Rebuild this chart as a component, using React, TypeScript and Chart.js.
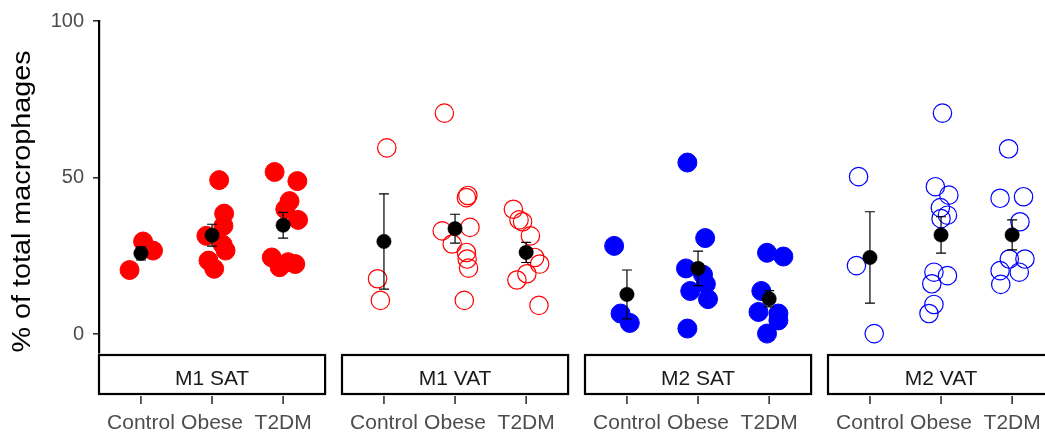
import React, { useEffect, useRef } from 'react';
import { Chart, registerables } from 'chart.js';

Chart.register(...registerables);

// ---------------- data ----------------
const PANELS = ['M1 SAT', 'M1 VAT', 'M2 SAT', 'M2 VAT'];
const GROUPS = ['Control', 'Obese', 'T2DM'];
const Y_TICKS = [0, 50, 100];
const Y_TITLE = '% of total macrophages';

const M1_SAT_VALUES = [
  [29.6, 26.7, 20.5],
  [49.2, 38.5, 34.6, 31.4, 28.6, 26.7, 23.5, 20.9],
  [51.8, 48.9, 42.5, 39.9, 36.5, 24.5, 23.0, 22.4, 21.4],
];
const M1_SAT_JITTER = [
  [0.03, 0.17, -0.16],
  [0.10, 0.17, 0.16, -0.08, 0.15, 0.19, -0.05, 0.03],
  [-0.12, 0.20, 0.09, 0.03, 0.21, -0.16, 0.07, 0.17, -0.05],
];
const M1_SAT_MEANS = [25.8, 31.6, 34.8];
const M1_SAT_ERR = [2.1, 3.5, 4.1];

const M1_VAT_VALUES = [
  [59.5, 17.7, 10.8],
  [70.6, 44.3, 43.6, 34.1, 33.0, 28.8, 26.1, 24.0, 21.1, 10.8],
  [39.9, 36.5, 35.9, 31.4, 24.5, 22.4, 19.3, 17.3, 9.2],
];
const M1_VAT_JITTER = [
  [0.04, -0.09, -0.05],
  [-0.15, 0.18, 0.16, 0.21, -0.18, -0.04, 0.16, 0.17, 0.19, 0.13],
  [-0.18, -0.10, -0.05, 0.06, 0.12, 0.19, 0.01, -0.13, 0.18],
];
const M1_VAT_MEANS = [29.6, 33.7, 26.1];
const M1_VAT_ERR = [15.2, 4.6, 3.2];

const M2_SAT_VALUES = [
  [28.2, 6.6, 3.6],
  [54.8, 30.7, 21.0, 19.0, 16.0, 13.8, 11.2, 1.8],
  [26.0, 24.8, 13.8, 7.1, 6.6, 4.4, 0.2],
];
const M2_SAT_JITTER = [
  [-0.18, -0.09, 0.04],
  [-0.15, 0.10, -0.17, 0.07, 0.11, -0.11, 0.14, -0.15],
  [-0.03, 0.20, -0.11, -0.15, 0.13, 0.13, -0.03],
];
const M2_SAT_MEANS = [12.7, 21.0, 11.3];
const M2_SAT_ERR = [7.8, 5.5, 2.6];

const M2_VAT_VALUES = [
  [50.3, 21.9, 0.2],
  [70.6, 47.1, 44.4, 40.4, 38.0, 36.9, 19.8, 18.7, 16.1, 9.5, 6.6],
  [59.2, 43.9, 43.4, 35.9, 24.0, 24.0, 20.3, 19.8, 15.9],
];
const M2_VAT_JITTER = [
  [-0.16, -0.19, 0.06],
  [0.02, -0.08, 0.11, -0.01, 0.09, 0.0, -0.10, 0.09, -0.13, -0.10, -0.17],
  [-0.05, 0.16, -0.17, 0.11, -0.04, 0.18, -0.17, 0.10, -0.16],
];
const M2_VAT_MEANS = [24.5, 31.7, 31.7];
const M2_VAT_ERR = [14.6, 5.8, 4.8];

// ---------------- layout / style ----------------
const FONT = "'Liberation Sans', Arial, Helvetica, sans-serif";
const W = 1045;
const H = 432;
const UNIT_PX = 71.1;
const PANEL_STRIDE = 243 / UNIT_PX; // distance between panels in category units
const EXPAND = 0.59;
const X_MIN = -EXPAND;
const X_MAX = X_MIN + (W - 99) / UNIT_PX;

const PANEL_DATA = [
  { values: M1_SAT_VALUES, jitter: M1_SAT_JITTER, means: M1_SAT_MEANS, err: M1_SAT_ERR, color: '#FF0000', filled: true },
  { values: M1_VAT_VALUES, jitter: M1_VAT_JITTER, means: M1_VAT_MEANS, err: M1_VAT_ERR, color: '#FF0000', filled: false },
  { values: M2_SAT_VALUES, jitter: M2_SAT_JITTER, means: M2_SAT_MEANS, err: M2_SAT_ERR, color: '#0000FF', filled: true },
  { values: M2_VAT_VALUES, jitter: M2_VAT_JITTER, means: M2_VAT_MEANS, err: M2_VAT_ERR, color: '#0000FF', filled: false },
];

const facetPlugin = {
  id: 'facetDecor',
  afterDatasetsDraw(chart: any) {
    const { ctx, scales } = chart;
    const xs = scales.x;
    const ys = scales.y;
    ctx.save();
    ctx.strokeStyle = '#000';
    ctx.lineWidth = 1.2;
    PANEL_DATA.forEach((pd, p) => {
      pd.means.forEach((m, g) => {
        const x = xs.getPixelForValue(p * PANEL_STRIDE + g);
        const yt = ys.getPixelForValue(m + pd.err[g]);
        const yb = ys.getPixelForValue(m - pd.err[g]);
        ctx.beginPath();
        ctx.moveTo(x, yt);
        ctx.lineTo(x, yb);
        ctx.moveTo(x - 5, yt);
        ctx.lineTo(x + 5, yt);
        ctx.moveTo(x - 5, yb);
        ctx.lineTo(x + 5, yb);
        ctx.stroke();
      });
    });
    ctx.restore();
  },
  afterDraw(chart: any) {
    const { ctx, scales } = chart;
    const xs = scales.x;
    ctx.save();
    PANELS.forEach((name, p) => {
      const base = p * PANEL_STRIDE;
      const left = xs.getPixelForValue(base - EXPAND);
      const right = xs.getPixelForValue(base + 2 + EXPAND);
      ctx.fillStyle = '#FFFFFF';
      ctx.fillRect(left, 355, right - left, 39);
      ctx.strokeStyle = '#000';
      ctx.lineWidth = 2.2;
      ctx.strokeRect(left, 355, right - left, 39);
      ctx.fillStyle = '#1A1A1A';
      ctx.font = `21px ${FONT}`;
      ctx.textAlign = 'center';
      ctx.textBaseline = 'alphabetic';
      ctx.fillText(name, (left + right) / 2, 385);
      GROUPS.forEach((gname, g) => {
        const x = xs.getPixelForValue(base + g);
        ctx.strokeStyle = '#333333';
        ctx.lineWidth = 1.6;
        ctx.beginPath();
        ctx.moveTo(x, 396);
        ctx.lineTo(x, 404);
        ctx.stroke();
        ctx.fillStyle = '#4D4D4D';
        ctx.font = `21px ${FONT}`;
        ctx.fillText(gname, x, 429);
      });
    });
    // y axis title
    ctx.translate(23, 201.5);
    ctx.rotate(-Math.PI / 2);
    ctx.scale(1.15, 1);
    ctx.fillStyle = '#000000';
    ctx.font = `25px ${FONT}`;
    ctx.textAlign = 'center';
    ctx.textBaseline = 'middle';
    ctx.fillText(Y_TITLE, 0, 0);
    ctx.restore();
  },
};

export default function App() {
  const ref = useRef<HTMLCanvasElement>(null);
  useEffect(() => {
    const canvas = ref.current;
    if (!canvas) return;
    Chart.defaults.font.family = FONT;

    const pointSets = PANEL_DATA.map((pd, p) => ({
      label: PANELS[p],
      data: pd.values.flatMap((vals, g) =>
        vals.map((v, i) => ({ x: p * PANEL_STRIDE + g + pd.jitter[g][i], y: v }))
      ),
      pointRadius: pd.filled ? 9.5 : 9.2,
      pointHoverRadius: pd.filled ? 9.5 : 9.2,
      pointBackgroundColor: pd.filled ? pd.color : 'rgba(0,0,0,0)',
      pointBorderColor: pd.color,
      pointBorderWidth: pd.filled ? 1 : 1.2,
      showLine: false,
      order: 2,
    }));
    const meanSet = {
      label: 'mean',
      data: PANEL_DATA.flatMap((pd, p) => pd.means.map((m, g) => ({ x: p * PANEL_STRIDE + g, y: m }))),
      pointRadius: 7.2,
      pointHoverRadius: 7.2,
      pointBackgroundColor: '#000000',
      pointBorderColor: '#000000',
      pointBorderWidth: 0.5,
      showLine: false,
      order: 0,
    };

    const chart = new Chart(canvas, {
      type: 'scatter',
      data: { datasets: [meanSet, ...pointSets] as any },
      options: {
        animation: false,
        responsive: false,
        layout: { autoPadding: false, padding: { top: 18, bottom: 79, left: 0, right: 0 } },
        plugins: { legend: { display: false }, tooltip: { enabled: false } },
        scales: {
          x: { type: 'linear', min: X_MIN, max: X_MAX, display: false },
          y: {
            type: 'linear',
            min: -6,
            max: 100,
            afterBuildTicks: (scale: any) => {
              scale.ticks = Y_TICKS.map((v) => ({ value: v }));
            },
            afterFit: (scale: any) => {
              scale.width = 99;
            },
            ticks: {
              color: '#4D4D4D',
              font: { size: 20, family: FONT },
              padding: 9,
              callback: (v: any) => String(v),
            },
            grid: {
              drawOnChartArea: false,
              drawTicks: true,
              tickLength: 6,
              color: '#333333',
              lineWidth: 1.6,
            },
            border: { display: true, color: '#000000', width: 2.2 },
            title: { display: false },
          },
        },
      },
      plugins: [facetPlugin],
    });
    return () => chart.destroy();
  }, []);

  return (
    <div style={{ position: 'fixed', left: 0, top: 0, width: W, height: H, background: '#fff' }}>
      <canvas ref={ref} width={W} height={H} style={{ width: W, height: H }} />
    </div>
  );
}
